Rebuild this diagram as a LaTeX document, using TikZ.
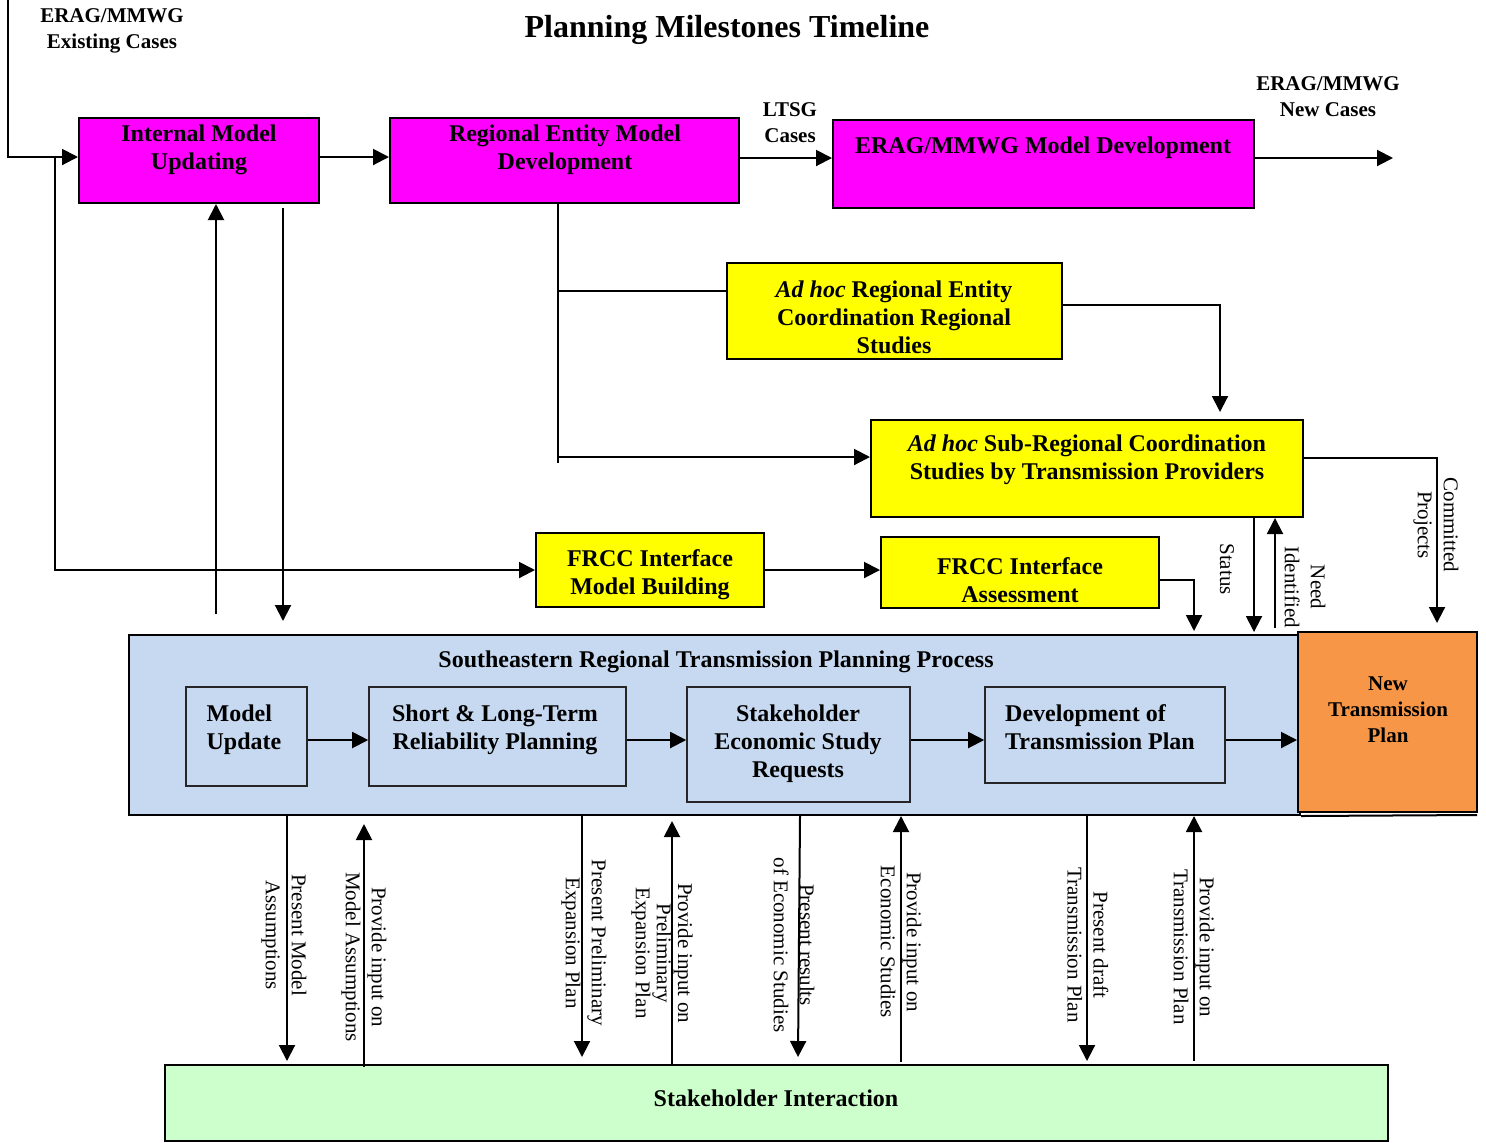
\documentclass[tikz,border=0pt]{standalone}
\usepackage{fontspec}
\setmainfont{Liberation Serif}
\usetikzlibrary{arrows.meta,fit}
\definecolor{mag}{HTML}{FF00FF}
\definecolor{yel}{HTML}{FFFF00}
\definecolor{procblue}{HTML}{C6D9F0}
\definecolor{orng}{HTML}{F79646}
\definecolor{lgreen}{HTML}{CCFFCC}
\tikzset{
  box/.style={draw=black, line width=1pt, inner sep=0pt},
  magbox/.style={box, fill=mag},
  yelbox/.style={box, fill=yel},
  inbox/.style={draw=black!85, line width=0.8pt, inner sep=0pt, fill=procblue},
  btxt/.style={font=\fontsize{12}{14}\selectfont\bfseries, align=center, inner sep=0pt},
  stxt/.style={font=\fontsize{10.5}{13}\selectfont\bfseries, align=center, inner sep=0pt},
  rtxt/.style={font=\fontsize{10.5}{13}\selectfont, align=center, inner sep=0pt, rotate=-90},
  conn/.style={line width=1pt},
  arr/.style={line width=1pt, -{Triangle[length=8pt,width=8pt]}},
}
\begin{document}
\begin{tikzpicture}[x=0.5pt,y=-0.5pt]
\useasboundingbox (0,0) rectangle (1486,1142);

% title
\node[font=\fontsize{16}{18}\selectfont\bfseries, inner sep=0pt] (title) at (727,30) {Planning Milestones Timeline};

% top row labels
\node[stxt] (ecases) at (112,31) {ERAG/MMWG\\Existing Cases};
\node[stxt] (ltsg) at (790,123) {LTSG\\Cases};
\node[stxt] (ncases) at (1328,97) {ERAG/MMWG\\New Cases};

% top boxes
\node[magbox, fit={(79,118) (319,203)}] (imu) {};
\node[btxt] (imut) at (199,150) {Internal Model\\Updating};
\node[magbox, fit={(390,118) (739,203)}] (rem) {};
\node[btxt] (remt) at (565,150) {Regional Entity Model\\Development};
\node[magbox, fit={(833,120) (1254,208)}] (erag) {};
\node[btxt] (eragt) at (1043,148) {ERAG/MMWG Model Development};

% ad hoc boxes
\node[yelbox, fit={(727,263) (1062,359)}] (adreg) {};
\node[btxt] (adregt) at (894,317) {\textit{Ad hoc} Regional Entity\\Coordination Regional\\Studies};
\node[yelbox, fit={(871,420) (1303,517)}] (adsub) {};
\node[btxt] (adsubt) at (1087,460) {\textit{Ad hoc} Sub-Regional Coordination\\Studies by Transmission Providers};

% FRCC boxes
\node[yelbox, fit={(536,533) (764,607)}] (fmb) {};
\node[btxt] (fmbt) at (650,575) {FRCC Interface\\Model Building};
\node[yelbox, fit={(881,537) (1159,608)}] (fa) {};
\node[btxt] (fat) at (1020,580) {FRCC Interface\\Assessment};

% SERTP process box
\node[box, fill=procblue, fit={(129,635) (1300,815)}] (sertp) {};
\node[btxt] (sertpt) at (716,662) {Southeastern Regional Transmission Planning Process};
\node[box, fill=orng, fit={(1298,632) (1477,812)}] (ntp) {};
\node[stxt] (ntpt) at (1388,710) {New\\Transmission\\Plan};
\coordinate (sbr) at (1477,815);
\draw[conn] (sertp.south east) -- (sbr);

\node[inbox, fit={(186,687) (307,786)}] (mu) {};
\node[btxt, align=left] (mut) at (244,730) {Model\\Update};
\node[inbox, fit={(369,687) (626,786)}] (slt) {};
\node[btxt] (sltt) at (495,730) {Short \& Long-Term\\Reliability Planning};
\node[inbox, fit={(687,687) (910,802)}] (ses) {};
\node[btxt] (sest) at (798,744) {Stakeholder\\Economic Study\\Requests};
\node[inbox, fit={(985,687) (1225,783)}] (dtp) {};
\node[btxt, align=left] (dtpt) at (1100,727) {Development of\\Transmission Plan};

\draw[arr] ([yshift=-1.75pt]mu.east) -- ([yshift=-1.75pt]slt.west);
\draw[arr] ([yshift=-1.75pt]slt.east) -- ([yshift=-1.75pt]slt.east -| ses.west);
\draw[arr] ([yshift=2.25pt]ses.east) -- ([yshift=2.25pt]ses.east -| dtp.west);
\draw[arr] ([yshift=-2.5pt]dtp.east) -- ([yshift=-2.5pt]dtp.east -| ntp.west);

% stakeholder interaction
\node[box, fill=lgreen, fit={(165,1065) (1388,1141)}] (shi) {};
\node[btxt] (shit) at (776,1098) {Stakeholder Interaction};

% top connectors
\coordinate (ecin) at (8,0);
\coordinate (lb) at (55,157);
\draw[arr] (ecin) |- ([yshift=1.75pt]imu.west);
\draw[arr] (lb) |- (fmb.west);
\draw[arr] ([yshift=1.75pt]imu.east) -- ([yshift=1.75pt]rem.west);
\draw[arr] ([yshift=1.25pt]rem.east) -- ([yshift=1.25pt]rem.east -| erag.west);
\coordinate (newc) at (1393,158);
\draw[arr] (erag.east |- newc) -- (newc);

\coordinate (u1) at (216,614);
\draw[arr] (u1) -- (u1 |- imu.south);
\coordinate (d1) at (283,621);
\draw[arr] ([yshift=-2pt]d1 |- imu.south) -- (d1);

\coordinate (vb) at (558,463);
\draw[conn] (vb |- rem.south) -- (vb);
\coordinate (b1) at (558,291);
\draw[conn] (b1) -- (b1 -| adreg.west);
\coordinate (b2) at (558,457);
\draw[arr] (b2) -- (b2 -| adsub.west);

\coordinate (c1) at (1220,412);
\draw[arr] ([yshift=3pt]adreg.east) -| (c1);
\coordinate (c2) at (1437,623);
\draw[arr] ([yshift=5.25pt]adsub.east) -| (c2);
\node[rtxt] (cpl) at (1436,525) {Committed\\Projects};

\coordinate (st) at (1254,0);
\draw[arr] (st |- adsub.south) -- ([yshift=1pt]st |- sertp.north);
\node[rtxt] (stl) at (1227,569) {Status};
\coordinate (nd) at (1275,0);
\draw[arr] ([yshift=1.5pt]nd |- ntp.north) -- (nd |- adsub.south);
\node[rtxt] (ndl) at (1305,587) {Need\\Identified};

\draw[arr] (fmb.east) -- (fmb.east -| fa.west);
\coordinate (c3) at (1194,631);
\draw[arr] ([yshift=-3.75pt]fa.east) -| (c3);

% bottom connectors
\coordinate (a1) at (287,0);
\coordinate (a2) at (364,0);
\coordinate (a3) at (582,0);
\coordinate (a4) at (672,0);
\coordinate (a5) at (799,0);
\coordinate (a6) at (901,0);
\coordinate (a7) at (1087,0);
\coordinate (a8) at (1194,0);
\draw[arr] (a1 |- sertp.south) -- ([yshift=1.5pt]a1 |- shi.north);
\draw[arr] ([yshift=-1.5pt]a2 |- shi.north) -- ([yshift=-4pt]a2 |- sertp.south);
\draw[arr] (a3 |- sertp.south) -- ([yshift=3.5pt]a3 |- shi.north);
\draw[arr] ([yshift=-0.5pt]a4 |- shi.north) -- ([yshift=-2.5pt]a4 |- sertp.south);
\draw[arr] ([xshift=0.5pt]a5 |- sertp.south) -- ([xshift=-0.5pt,yshift=3.5pt]a5 |- shi.north);
\draw[arr] ([yshift=1pt]a6 |- shi.north) -- (a6 |- sertp.south);
\draw[arr] (a7 |- sertp.south) -- ([yshift=1.5pt]a7 |- shi.north);
\draw[arr] ([yshift=1.5pt]a8 |- shi.north) -- (a8 |- sertp.south);

\node[rtxt] (l1) at (284,935) {Present Model\\Assumptions};
\node[rtxt] (l2) at (364,957) {Provide input on\\Model Assumptions};
\node[rtxt] (l3) at (584,943) {Present Preliminary\\Expansion Plan};
\node[rtxt, font=\fontsize{10.5}{9.5}\selectfont] (l4) at (662,953) {Provide input on\\Preliminary\\Expansion Plan};
\node[rtxt] (l5) at (794,945) {Present results\\of Economic Studies};
\node[rtxt] (l6) at (901,942) {Provide input on\\Economic Studies};
\node[rtxt] (l7) at (1088,945) {Present draft\\Transmission Plan};
\node[rtxt] (l8) at (1194,947) {Provide input on\\Transmission Plan};
\end{tikzpicture}
\end{document}
